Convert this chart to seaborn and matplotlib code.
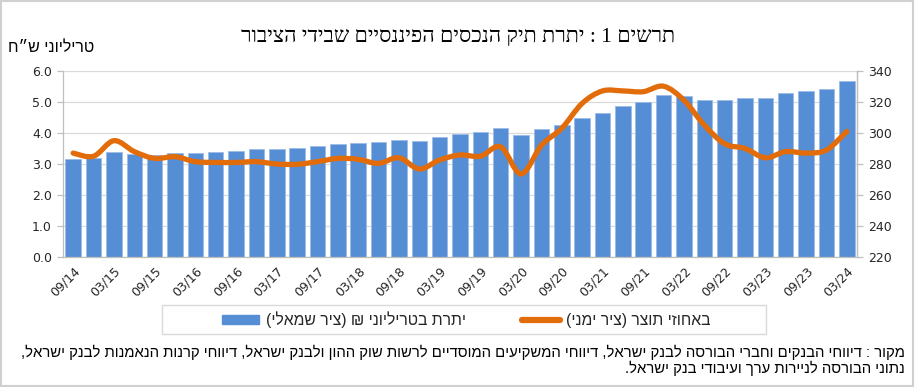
import numpy as np
import pandas as pd
import matplotlib
matplotlib.use("Agg")
import matplotlib.pyplot as plt
import seaborn as sns
from matplotlib.path import Path
from matplotlib.patches import PathPatch, Rectangle, Patch
from matplotlib.lines import Line2D

# ---------------- data ----------------
quarters = ["09/14", "12/14", "03/15", "06/15", "09/15", "12/15", "03/16", "06/16",
            "09/16", "12/16", "03/17", "06/17", "09/17", "12/17", "03/18", "06/18",
            "09/18", "12/18", "03/19", "06/19", "09/19", "12/19", "03/20", "06/20",
            "09/20", "12/20", "03/21", "06/21", "09/21", "12/21", "03/22", "06/22",
            "09/22", "12/22", "03/23", "06/23", "09/23", "12/23", "03/24"]
balance_tril = [3.17, 3.20, 3.38, 3.32, 3.30, 3.34, 3.34, 3.38, 3.43, 3.48,
                3.49, 3.53, 3.57, 3.64, 3.67, 3.70, 3.77, 3.73, 3.87, 3.97,
                4.02, 4.15, 3.92, 4.12, 4.24, 4.49, 4.64, 4.87, 5.00, 5.21,
                5.19, 5.06, 5.06, 5.11, 5.11, 5.28, 5.36, 5.40, 5.68]
pct_gdp = [287, 285, 295, 288, 283.6, 284.7, 281.5, 281, 281, 281.5,
           280, 279.8, 281.5, 283.6, 283, 280.4, 284, 276.8, 282.6, 285.8,
           285, 291, 273.6, 292, 303, 319, 327, 327, 326.5, 330,
           321, 305, 293, 290, 284, 288, 287, 289, 301]
left_ticks = [0, 1, 2, 3, 4, 5, 6]
right_ticks = [220, 240, 260, 280, 300, 320, 340]

def rtl(s):
    r = s[::-1]
    return r.translate(str.maketrans("()", ")("))

title = rtl("תרשים 1 : יתרת תיק הנכסים הפיננסיים שבידי הציבור")
ylab = rtl("טריליוני ש״ח")
leg_bar = rtl("יתרת בטריליוני ₪ (ציר שמאלי)")
leg_line = rtl("באחוזי תוצר (ציר ימני)")
src1 = rtl("מקור : דיווחי הבנקים וחברי הבורסה לבנק ישראל, דיווחי המשקיעים המוסדיים לרשות שוק ההון ולבנק ישראל, דיווחי קרנות הנאמנות לבנק ישראל,")
src2 = rtl("נתוני הבורסה לניירות ערך ועיבודי בנק ישראל.")

df = pd.DataFrame({"q": quarters, "bal": balance_tril, "pct": pct_gdp})

# ---------------- style ----------------
sns.set_theme(style="white")
plt.rcParams["font.family"] = ["DejaVu Sans"]
SANS_HE = ["Liberation Sans", "DejaVu Sans"]
SERIF_HE = ["Liberation Serif", "DejaVu Serif", "DejaVu Sans"]
BLUE = "#558ED5"
ORANGE = "#E36C0A"
GRID = "#D9D9D9"
SPINE = "#BFBFBF"
TXT = "#262626"

fig = plt.figure(figsize=(9.15, 3.87), dpi=100)
ax = fig.add_axes([63 / 915, 1 - 257.3 / 387, (857 - 63) / 915, (257.3 - 70.7) / 387])

sns.barplot(data=df, x="q", y="bal", ax=ax, color=BLUE, width=0.76,
            edgecolor="#9DBCE6", linewidth=0.6, saturation=1, zorder=2)
ax.set_xlim(-0.5, len(quarters) - 0.5)
ax.set_ylim(0, 6)
ax.set_yticks(left_ticks)
ax.set_yticklabels([f"{v:.1f}" for v in left_ticks])
ax.grid(axis="y", color=GRID, linewidth=0.9, zorder=0)
ax.set_axisbelow(True)
ax.set_xlabel("")
ax.set_ylabel("")

idx = np.arange(len(quarters))
ax.set_xticks(idx[::2])
ax.set_xticklabels([quarters[i] for i in idx[::2]], rotation=45, ha="right",
                   rotation_mode="anchor", fontsize=9, color=TXT)
ax.set_xticks(np.arange(-0.5, len(quarters), 1), minor=True)
ax.tick_params(axis="x", which="major", length=0, pad=5)
ax.tick_params(axis="x", which="minor", length=4, color=SPINE, width=0.9)
ax.tick_params(axis="y", which="major", length=4, color=SPINE, width=0.9,
               labelsize=9, labelcolor=TXT, left=True, pad=4)
for s in ["top"]:
    ax.spines[s].set_visible(False)
for s in ["left", "bottom", "right"]:
    ax.spines[s].set_color(SPINE)
    ax.spines[s].set_linewidth(0.9)

ax2 = ax.twinx()
ax2.set_ylim(220, 340)
ax2.set_yticks(right_ticks)
ax2.tick_params(axis="y", length=4, color=SPINE, width=0.9, labelsize=9,
                labelcolor=TXT, right=True, pad=4)
for s in ["top", "left", "bottom"]:
    ax2.spines[s].set_visible(False)
ax2.spines["right"].set_color(SPINE)
ax2.spines["right"].set_linewidth(0.9)
ax2.grid(False)

# smoothed line (Catmull-Rom as Bezier) through the data points
xs = idx.astype(float)
ys = np.asarray(pct_gdp, dtype=float)
P = np.column_stack([xs, ys])
Pext = np.vstack([P[0], P, P[-1]])
verts = [tuple(P[0])]
codes = [Path.MOVETO]
for i in range(len(P) - 1):
    p0, p1, p2, p3 = Pext[i], Pext[i + 1], Pext[i + 2], Pext[i + 3]
    c1 = p1 + (p2 - p0) / 6.0
    c2 = p2 - (p3 - p1) / 6.0
    verts += [tuple(c1), tuple(c2), tuple(p2)]
    codes += [Path.CURVE4, Path.CURVE4, Path.CURVE4]
patch = PathPatch(Path(verts, codes), facecolor="none", edgecolor=ORANGE,
                  linewidth=3.8, capstyle="round", joinstyle="round", zorder=3)
ax2.add_patch(patch)

# texts
fig.text(458 / 915, 1 - 37 / 387, title, ha="center", va="center",
         fontsize=15.5, family=SERIF_HE, color="black")
fig.text(8 / 915, 1 - 48 / 387, ylab, ha="left", va="center",
         fontsize=11.5, family=SANS_HE, color="black")

# legend
fig.add_artist(Rectangle((162 / 915, 1 - 334 / 387), (766 - 162) / 915, 29 / 387,
                         transform=fig.transFigure, facecolor="white",
                         edgecolor=GRID, linewidth=1.0))
handles = [Patch(facecolor=BLUE, edgecolor=BLUE),
           Line2D([0], [0], color=ORANGE, linewidth=4.5, solid_capstyle="round")]
leg = fig.legend(handles, [leg_bar, leg_line], loc="center",
                 bbox_to_anchor=(466 / 915, 1 - 319.5 / 387), ncol=2,
                 frameon=False, handlelength=2.4, handleheight=0.55,
                 columnspacing=3.6, handletextpad=0.4,
                 prop={"family": SANS_HE, "size": 11.3})

fig.text(905 / 915, 1 - 352 / 387, src1, ha="right", va="center",
         fontsize=10.7, family=SANS_HE, color="black")
fig.text(905 / 915, 1 - 368 / 387, src2, ha="right", va="center",
         fontsize=10.7, family=SANS_HE, color="black")

fig.add_artist(Rectangle((0.001, 0.002), 0.997, 0.995, transform=fig.transFigure,
                         facecolor="none", edgecolor="#D0D0D0", linewidth=1.5))

fig.savefig("out.png", dpi=100)
